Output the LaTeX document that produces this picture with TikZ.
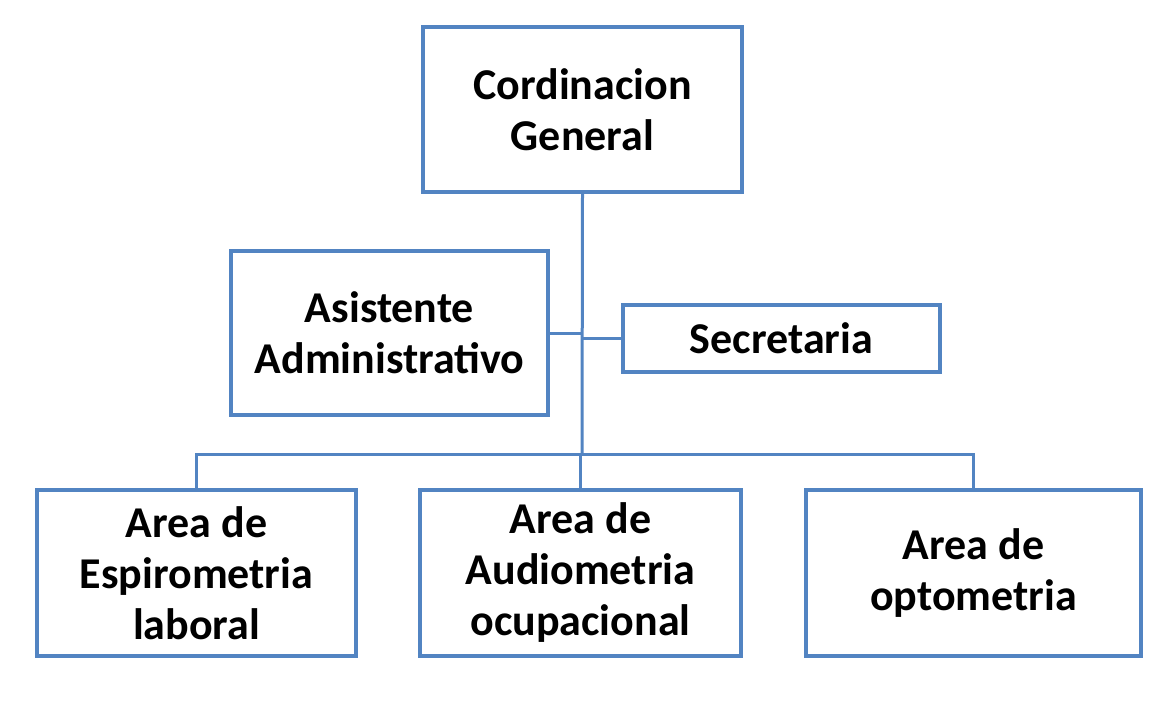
\documentclass[tikz,border=0pt]{standalone}
\usepackage{fontspec}
\setmainfont{Carlito}
\definecolor{OrgBlue}{HTML}{5284C2}
\usetikzlibrary{positioning,calc}

\tikzset{
  orgbox/.style={
    draw=OrgBlue,
    line width=3.5pt,
    fill=white,
    align=center,
    font=\fontsize{44}{51}\selectfont\bfseries,
    inner sep=0pt
  },
  orgline/.style={draw=OrgBlue, line width=3pt}
}

\begin{document}
\begin{tikzpicture}[x=1pt,y=-1pt]
    \useasboundingbox (0,0) rectangle (1164,720);

    % jefatura
    \node[orgbox, minimum width=319pt, minimum height=165pt] (coord) at (582.5,109.5)
      {Cordinacion\\General};

    % staff
    \node[orgbox, minimum width=317pt, minimum height=164pt] (asist) at (389.5,333)
      {Asistente\\Administrativo};
    \node[orgbox, minimum width=317pt, minimum height=67pt] (secre) at (781.5,338.5)
      {Secretaria};

    % areas
    \node[orgbox, minimum width=319pt, minimum height=166pt] (espiro) at (196.5,573)
      {Area de\\Espirometria\\laboral};
    \node[orgbox, minimum width=321pt, minimum height=166pt] (audio) at (580.5,573)
      {Area de\\Audiometria\\ocupacional};
    \node[orgbox, minimum width=335pt, minimum height=166pt] (opto) at (973.5,573)
      {Area de\\optometria};

    \coordinate (bar) at (582,454);

    \draw[orgline] (coord.south) -- (bar);
    \draw[orgline] (asist.east) -- (asist.east -| coord.south);
    \draw[orgline] (secre.west) -- (secre.west -| coord.south);
    \draw[orgline] (espiro.north) |- (bar) -| (opto.north);
    \draw[orgline] (audio.north |- bar) -- (audio.north);
\end{tikzpicture}
\end{document}
